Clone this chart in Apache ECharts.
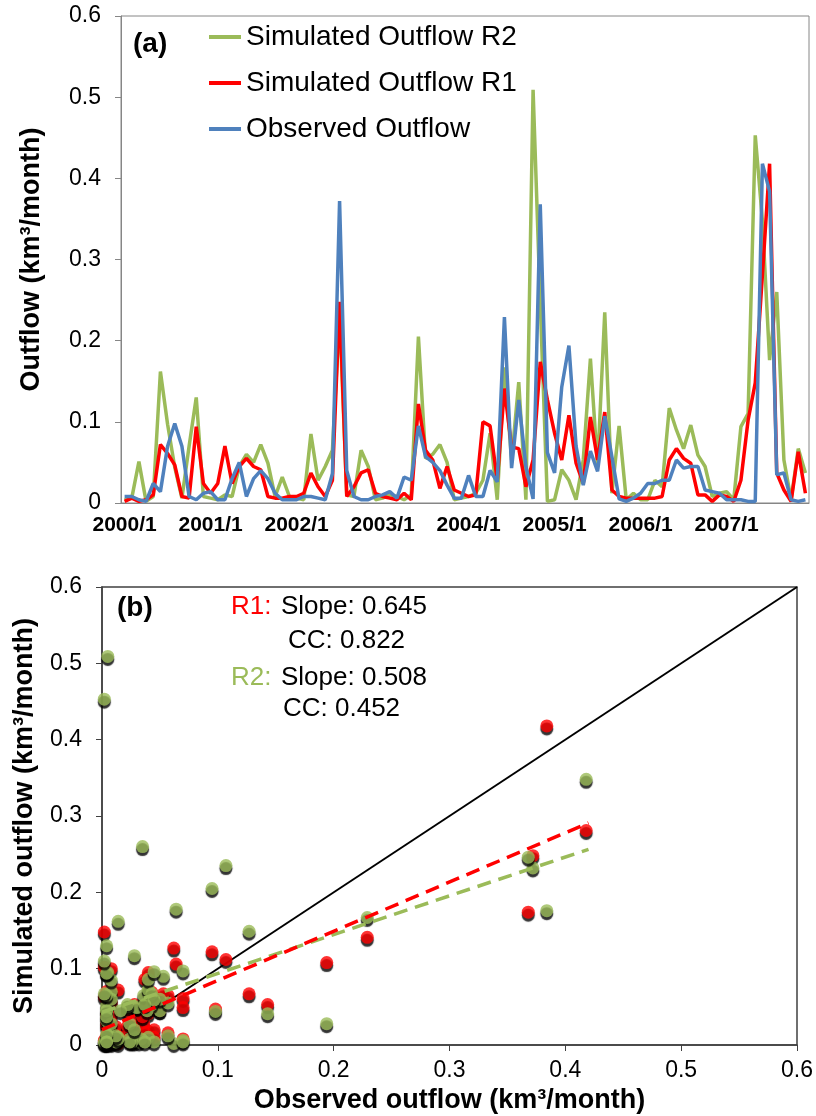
<!DOCTYPE html>
<html lang="en">
<head>
<meta charset="UTF-8">
<title>Outflow - observed vs simulated</title>
<script src="https://cdn.jsdelivr.net/npm/echarts@6/dist/echarts.min.js"></script>
<style>
    html, body { margin: 0; padding: 0; background: #fff; }
    #chart { width: 816px; height: 1116px; }
</style>
</head>
<body>
<div id="chart"></div>
<script>
    // monthly categories 2000/1 .. 2007/12
    let months = [];
    for (let y = 2000; y <= 2007; y++) {
        for (let m = 1; m <= 12; m++) months.push(y + '/' + m);
    }

    // outflow, km3/month
    let observed = [
        0.008, 0.008, 0.004, 0.002, 0.024, 0.014, 0.070, 0.098, 0.070, 0.008, 0.004, 0.012,
        0.014, 0.004, 0.004, 0.030, 0.050, 0.008, 0.030, 0.040, 0.030, 0.012, 0.004, 0.004,
        0.004, 0.008, 0.008, 0.006, 0.004, 0.036, 0.372, 0.040, 0.008, 0.004, 0.004, 0.008,
        0.010, 0.014, 0.006, 0.032, 0.028, 0.095, 0.057, 0.050, 0.040, 0.022, 0.006, 0.006,
        0.034, 0.008, 0.008, 0.040, 0.026, 0.229, 0.043, 0.127, 0.045, 0.005, 0.368, 0.062,
        0.037, 0.143, 0.194, 0.070, 0.022, 0.064, 0.039, 0.107, 0.057, 0.005, 0.002, 0.006,
        0.012, 0.024, 0.024, 0.028, 0.028, 0.053, 0.043, 0.045, 0.045, 0.016, 0.014, 0.012,
        0.004, 0.004, 0.004, 0.002, 0.002, 0.418, 0.384, 0.035, 0.037, 0.004, 0.002, 0.004
    ];
    let simR1 = [
        0.002, 0.006, 0.002, 0.004, 0.010, 0.072, 0.061, 0.047, 0.008, 0.006, 0.094, 0.024,
        0.012, 0.024, 0.070, 0.024, 0.045, 0.055, 0.045, 0.041, 0.008, 0.006, 0.006, 0.008,
        0.008, 0.012, 0.037, 0.020, 0.008, 0.028, 0.248, 0.008, 0.020, 0.037, 0.041, 0.012,
        0.008, 0.006, 0.004, 0.012, 0.004, 0.122, 0.065, 0.053, 0.018, 0.045, 0.016, 0.012,
        0.008, 0.010, 0.100, 0.095, 0.028, 0.141, 0.069, 0.067, 0.020, 0.053, 0.174, 0.127,
        0.086, 0.053, 0.108, 0.049, 0.024, 0.106, 0.053, 0.112, 0.016, 0.008, 0.006, 0.006,
        0.006, 0.006, 0.006, 0.008, 0.053, 0.067, 0.055, 0.049, 0.010, 0.010, 0.002, 0.010,
        0.008, 0.002, 0.028, 0.102, 0.148, 0.281, 0.418, 0.037, 0.016, 0.002, 0.063, 0.012
    ];
    let simR2 = [
        0.004, 0.006, 0.051, 0.002, 0.008, 0.162, 0.097, 0.044, 0.006, 0.070, 0.130, 0.008,
        0.006, 0.004, 0.010, 0.008, 0.045, 0.060, 0.050, 0.072, 0.049, 0.008, 0.032, 0.008,
        0.006, 0.004, 0.085, 0.028, 0.045, 0.065, 0.232, 0.010, 0.008, 0.065, 0.045, 0.004,
        0.006, 0.010, 0.008, 0.004, 0.010, 0.205, 0.055, 0.060, 0.072, 0.050, 0.004, 0.006,
        0.008, 0.012, 0.028, 0.086, 0.004, 0.167, 0.053, 0.149, 0.004, 0.509, 0.246, 0.002,
        0.004, 0.041, 0.028, 0.004, 0.053, 0.178, 0.045, 0.235, 0.012, 0.095, 0.004, 0.012,
        0.004, 0.004, 0.028, 0.020, 0.117, 0.090, 0.067, 0.096, 0.059, 0.045, 0.008, 0.012,
        0.014, 0.004, 0.094, 0.110, 0.453, 0.348, 0.176, 0.260, 0.053, 0.004, 0.067, 0.037
    ];

    // trend lines of panel (b)
    let slopeR1 = 0.645, interceptR1 = 0.020;
    let slopeR2 = 0.508, interceptR2 = 0.043;
    let trendRange = [0, 0.42];
    let oneToOne = [0, 0.6];

    const GREEN = '#9BBB59', RED = '#FF0000', BLUE = '#4F81BD';
    const FONT = 'Liberation Sans';

    let pairs = (sim) => observed.map((o, i) => [o, sim[i]]);
    let trend = (k, b) => trendRange.map(x => [x, k * x + b]);

    // coloured disc with a hard black shadow below it
    let markerStyle = (color) => ({
        color: color, shadowColor: '#000', shadowBlur: 1, shadowOffsetX: 0, shadowOffsetY: 3
    });

    let chart = echarts.init(document.getElementById('chart'), null, {renderer: 'canvas'});

    let option = {
        animation: false,
        textStyle: {fontFamily: FONT},
        grid: [
            {left: 121, top: 16, width: 688, height: 487, show: true, borderColor: '#868686', borderWidth: 1},
            {left: 102, top: 587, width: 695, height: 458, show: true, borderColor: '#404040', borderWidth: 1.5}
        ],
        legend: {
            data: ['Simulated Outflow R2', 'Simulated Outflow R1', 'Observed Outflow'],
            orient: 'vertical',
            left: 204,
            top: 18,
            icon: 'rect',
            itemWidth: 32,
            itemHeight: 4,
            itemGap: 18,
            textStyle: {fontSize: 28, color: '#000', fontFamily: FONT}
        },
        xAxis: [
            {
                gridIndex: 0,
                type: 'category',
                data: months,
                boundaryGap: true,
                axisLine: {lineStyle: {color: '#868686', width: 1}},
                axisTick: {interval: 5, length: 6, lineStyle: {color: '#868686'}},
                axisLabel: {interval: 11, margin: 12, fontSize: 21, fontWeight: 'bold', color: '#000'},
                splitLine: {show: false}
            },
            {
                gridIndex: 1,
                type: 'value',
                min: 0, max: 0.6, interval: 0.1,
                name: 'Observed outflow (km³/month)',
                nameLocation: 'middle',
                nameGap: 42,
                nameTextStyle: {fontSize: 27, fontWeight: 'bold', color: '#000'},
                axisLine: {lineStyle: {color: '#404040', width: 1.5}},
                axisTick: {length: 6, lineStyle: {color: '#404040'}},
                axisLabel: {margin: 14, fontSize: 23, color: '#000'},
                splitLine: {show: false}
            }
        ],
        yAxis: [
            {
                gridIndex: 0,
                type: 'value',
                min: 0, max: 0.6, interval: 0.1,
                name: 'Outflow (km³/month)',
                nameLocation: 'middle',
                nameGap: 76,
                nameTextStyle: {fontSize: 27, fontWeight: 'bold', color: '#000'},
                axisLine: {show: true, lineStyle: {color: '#868686', width: 1}},
                axisTick: {show: true, length: 6, lineStyle: {color: '#868686'}},
                axisLabel: {margin: 20, fontSize: 23, color: '#000'},
                splitLine: {show: false}
            },
            {
                gridIndex: 1,
                type: 'value',
                min: 0, max: 0.6, interval: 0.1,
                name: 'Simulated outflow (km³/month)',
                nameLocation: 'middle',
                nameGap: 64,
                nameTextStyle: {fontSize: 27, fontWeight: 'bold', color: '#000'},
                axisLine: {show: true, lineStyle: {color: '#404040', width: 1.5}},
                axisTick: {show: true, length: 6, lineStyle: {color: '#404040'}},
                axisLabel: {margin: 20, fontSize: 23, color: '#000'},
                splitLine: {show: false}
            }
        ],
        series: [
            // panel (a)
            {
                name: 'Simulated Outflow R2', type: 'line', xAxisIndex: 0, yAxisIndex: 0,
                data: simR2, symbol: 'none', z: 2,
                lineStyle: {color: GREEN, width: 3.5}, itemStyle: {color: GREEN}
            },
            {
                name: 'Simulated Outflow R1', type: 'line', xAxisIndex: 0, yAxisIndex: 0,
                data: simR1, symbol: 'none', z: 3,
                lineStyle: {color: RED, width: 3.5}, itemStyle: {color: RED}
            },
            {
                name: 'Observed Outflow', type: 'line', xAxisIndex: 0, yAxisIndex: 0,
                data: observed, symbol: 'none', z: 4,
                lineStyle: {color: BLUE, width: 3.5}, itemStyle: {color: BLUE}
            },
            // panel (b)
            {
                type: 'line', xAxisIndex: 1, yAxisIndex: 1, z: 1,
                data: oneToOne.map(v => [v, v]), symbol: 'none',
                lineStyle: {color: '#000', width: 2}
            },
            {
                type: 'scatter', xAxisIndex: 1, yAxisIndex: 1, z: 2,
                data: pairs(simR1), symbolSize: 13, itemStyle: markerStyle(RED)
            },
            {
                type: 'scatter', xAxisIndex: 1, yAxisIndex: 1, z: 3,
                data: pairs(simR2), symbolSize: 13, itemStyle: markerStyle(GREEN)
            },
            {
                type: 'line', xAxisIndex: 1, yAxisIndex: 1, z: 6,
                data: trend(slopeR2, interceptR2), symbol: 'none',
                lineStyle: {color: GREEN, width: 3.5, type: [14, 8]}
            },
            {
                type: 'line', xAxisIndex: 1, yAxisIndex: 1, z: 7,
                data: trend(slopeR1, interceptR1), symbol: 'none',
                lineStyle: {color: RED, width: 3.5, type: [14, 8]}
            }
        ],
        graphic: [
            {type: 'text', x: 133, y: 44, style: {text: '(a)', font: 'bold 28px ' + FONT, fill: '#000', verticalAlign: 'middle'}},
            {type: 'text', x: 117, y: 608, style: {text: '(b)', font: 'bold 28px ' + FONT, fill: '#000', verticalAlign: 'middle'}},
            {type: 'text', x: 231, y: 607, style: {text: 'R1:', font: '26px ' + FONT, fill: RED, verticalAlign: 'middle'}},
            {type: 'text', x: 281, y: 607, style: {text: 'Slope: 0.645', font: '26px ' + FONT, fill: '#000', verticalAlign: 'middle'}},
            {type: 'text', x: 288, y: 641, style: {text: 'CC: 0.822', font: '26px ' + FONT, fill: '#000', verticalAlign: 'middle'}},
            {type: 'text', x: 231, y: 678, style: {text: 'R2:', font: '26px ' + FONT, fill: GREEN, verticalAlign: 'middle'}},
            {type: 'text', x: 281, y: 678, style: {text: 'Slope: 0.508', font: '26px ' + FONT, fill: '#000', verticalAlign: 'middle'}},
            {type: 'text', x: 283, y: 709, style: {text: 'CC: 0.452', font: '26px ' + FONT, fill: '#000', verticalAlign: 'middle'}}
        ]
    };

    chart.setOption(option);
</script>
</body>
</html>
